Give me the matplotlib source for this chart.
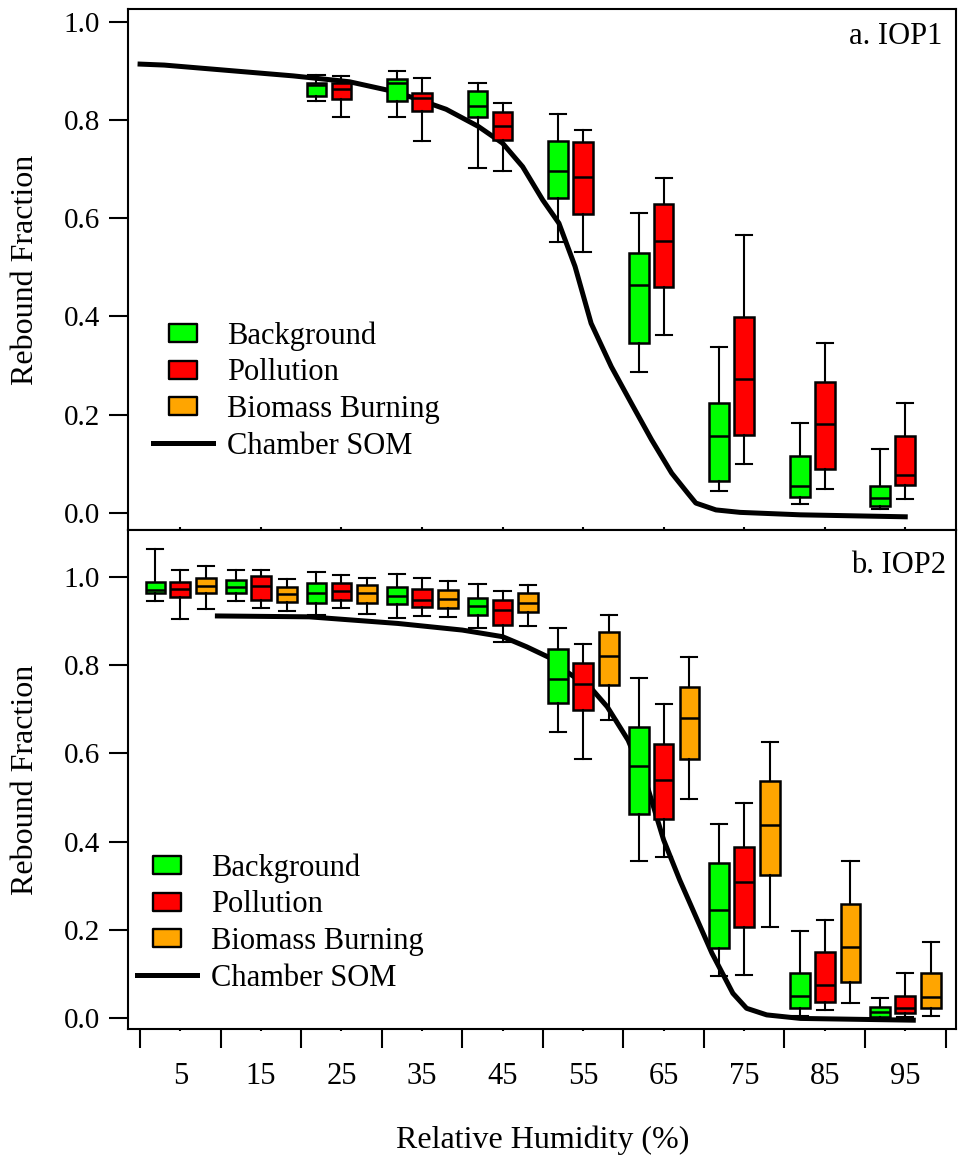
import matplotlib
matplotlib.use("Agg")
import matplotlib.pyplot as plt
from matplotlib.lines import Line2D
from matplotlib.path import Path

plt.rcParams['font.family'] = ['Liberation Serif', 'DejaVu Serif']

# RH bins and labels
rh_bins = [5, 15, 25, 35, 45, 55, 65, 75, 85, 95]
tick_labels = ['5', '15', '25', '35', '45', '55', '65', '75', '85', '95']

# box stats per bin: [whislo, q1, med, q3, whishi]
# IOP1
iop1_bins = [25, 35, 45, 55, 65, 75, 85, 95]
iop1_bg = [[0.838, 0.849, 0.872, 0.876, 0.892],
           [0.807, 0.838, 0.875, 0.884, 0.899],
           [0.702, 0.807, 0.829, 0.859, 0.876],
           [0.551, 0.641, 0.697, 0.757, 0.813],
           [0.287, 0.346, 0.464, 0.529, 0.610],
           [0.045, 0.064, 0.157, 0.223, 0.337],
           [0.018, 0.033, 0.054, 0.116, 0.183],
           [0.008, 0.015, 0.030, 0.054, 0.130]]
iop1_pol = [[0.807, 0.843, 0.863, 0.875, 0.890],
            [0.758, 0.819, 0.845, 0.855, 0.885],
            [0.697, 0.760, 0.787, 0.816, 0.834],
            [0.532, 0.609, 0.685, 0.755, 0.779],
            [0.363, 0.459, 0.553, 0.629, 0.683],
            [0.100, 0.159, 0.273, 0.399, 0.566],
            [0.048, 0.090, 0.181, 0.266, 0.346],
            [0.029, 0.057, 0.077, 0.157, 0.223]]

# IOP2
iop2_bins = rh_bins
iop2_bg = [[0.946, 0.963, 0.970, 0.988, 1.063],
           [0.946, 0.963, 0.978, 0.993, 1.016],
           [0.914, 0.942, 0.964, 0.986, 1.012],
           [0.907, 0.940, 0.958, 0.978, 1.008],
           [0.884, 0.914, 0.934, 0.953, 0.984],
           [0.649, 0.714, 0.770, 0.836, 0.885],
           [0.357, 0.463, 0.571, 0.659, 0.772],
           [0.096, 0.159, 0.245, 0.351, 0.441],
           [0.005, 0.023, 0.050, 0.101, 0.198],
           [0.000, 0.003, 0.014, 0.026, 0.045]]
iop2_pol = [[0.905, 0.955, 0.973, 0.988, 1.016],
            [0.930, 0.949, 0.980, 1.002, 1.016],
            [0.931, 0.949, 0.969, 0.986, 1.006],
            [0.913, 0.933, 0.948, 0.973, 0.998],
            [0.853, 0.891, 0.925, 0.948, 0.969],
            [0.587, 0.698, 0.757, 0.806, 0.848],
            [0.366, 0.451, 0.540, 0.621, 0.713],
            [0.097, 0.206, 0.309, 0.387, 0.488],
            [0.017, 0.036, 0.075, 0.150, 0.222],
            [0.002, 0.011, 0.022, 0.050, 0.101]]
iop2_bb = [[0.927, 0.964, 0.980, 0.997, 1.025],
           [0.924, 0.943, 0.961, 0.978, 0.996],
           [0.916, 0.942, 0.963, 0.982, 0.999],
           [0.909, 0.931, 0.950, 0.971, 0.991],
           [0.890, 0.921, 0.942, 0.963, 0.982],
           [0.676, 0.755, 0.821, 0.875, 0.914],
           [0.497, 0.587, 0.681, 0.751, 0.819],
           [0.206, 0.324, 0.438, 0.538, 0.626],
           [0.033, 0.082, 0.160, 0.258, 0.357],
           [0.005, 0.022, 0.048, 0.101, 0.173]]

# chamber SOM curves
som1_rh = [0, 3, 11, 19, 26, 31, 34, 38, 42, 45, 47.5, 50, 52, 54, 56, 58.5,
           61, 63.5, 66, 68, 69, 71.5, 74.5, 82, 95]
som1_rf = [0.914, 0.912, 0.901, 0.890, 0.878, 0.860, 0.845, 0.822, 0.787,
           0.753, 0.705, 0.637, 0.590, 0.502, 0.386, 0.298, 0.223, 0.149,
           0.081, 0.040, 0.020, 0.006, 0.001, -0.004, -0.008]
som2_rh = [9.6, 21, 32, 40, 45, 48, 51, 53, 56, 58, 60.6, 63, 65, 67, 69,
           71, 73.6, 75.3, 77.8, 82, 96]
som2_rf = [0.912, 0.910, 0.895, 0.880, 0.865, 0.842, 0.816, 0.785, 0.748,
           0.706, 0.630, 0.524, 0.404, 0.313, 0.230, 0.147, 0.056, 0.022,
           0.007, -0.001, -0.005]

colors = {'bg': '#00ff00', 'pol': '#ff0000', 'bb': '#ffa500'}
offsets = {'bg': -3.1, 'pol': 0.0, 'bb': 3.2}
names = {'bg': 'Background', 'pol': 'Pollution', 'bb': 'Biomass Burning'}


def draw_boxes(ax, bins, stats, key):
    bx = []
    for s in stats:
        bx.append({'whislo': s[0], 'q1': s[1], 'med': s[2], 'q3': s[3],
                   'whishi': s[4], 'fliers': []})
    pos = [b + offsets[key] for b in bins]
    ax.bxp(bx, positions=pos, widths=2.45, capwidths=2.0, patch_artist=True,
           showfliers=False, manage_ticks=False, zorder=3,
           boxprops=dict(facecolor=colors[key], edgecolor='k', linewidth=1.8),
           whiskerprops=dict(color='k', linewidth=1.5),
           capprops=dict(color='k', linewidth=1.5),
           medianprops=dict(color='k', linewidth=1.8))


rect = Path([(-1, -0.64), (1, -0.64), (1, 0.64), (-1, 0.64), (-1, -0.64)],
            [Path.MOVETO, Path.LINETO, Path.LINETO, Path.LINETO, Path.CLOSEPOLY])


def add_legend(ax, keys, x, y):
    hs = []
    for k in keys:
        hs.append(Line2D([], [], ls='none', marker=rect, ms=20,
                         mfc=colors[k], mec='k', mew=1.7, label=names[k]))
    hs.append(Line2D([], [], color='k', lw=3.6, label='Chamber SOM'))
    ax.legend(handles=hs, loc='center left', bbox_to_anchor=(x, y),
              frameon=False, fontsize=22, handlelength=1.96,
              handletextpad=0.46, labelspacing=0.25, borderpad=0,
              borderaxespad=0, numpoints=1)


fig = plt.figure(figsize=(9.58, 11.67), dpi=100)
ax1 = fig.add_axes([0.1336, 0.5458, 0.8643, 0.4464])
ax2 = fig.add_axes([0.1336, 0.11825, 0.8643, 0.4276])

# top panel
ax1.plot(som1_rh, som1_rf, color='k', lw=3.6, zorder=2)
draw_boxes(ax1, iop1_bins, iop1_bg, 'bg')
draw_boxes(ax1, iop1_bins, iop1_pol, 'pol')
ax1.set_ylim(-0.035, 1.026)
ax1.text(0.983, 0.947, 'a. IOP1', transform=ax1.transAxes, ha='right',
         va='center', fontsize=22)
add_legend(ax1, ['bg', 'pol', 'bb'], 0.030, 0.2668)

# bottom panel
ax2.plot(som2_rh, som2_rf, color='k', lw=3.6, zorder=2)
draw_boxes(ax2, iop2_bins, iop2_bg, 'bg')
draw_boxes(ax2, iop2_bins, iop2_pol, 'pol')
draw_boxes(ax2, iop2_bins, iop2_bb, 'bb')
ax2.set_ylim(-0.025, 1.107)
ax2.text(0.988, 0.928, 'b. IOP2', transform=ax2.transAxes, ha='right',
         va='center', fontsize=22)
add_legend(ax2, ['bg', 'pol', 'bb'], 0.011, 0.2124)

for ax in [ax1, ax2]:
    ax.set_xlim(-1.5, 101.3)
    ax.set_yticks([0.0, 0.2, 0.4, 0.6, 0.8, 1.0])
    ax.set_yticklabels(['0.0', '0.2', '0.4', '0.6', '0.8', '1.0'])
    ax.tick_params(axis='y', direction='out', length=14, width=1.5,
                   labelsize=21, pad=6)
    for sp in ax.spines.values():
        sp.set_linewidth(1.5)
    ax.set_ylabel('Rebound Fraction', fontsize=23)
    ax.yaxis.set_label_coords(-0.106, 0.5)

ax1.set_xticks([])
ax1.set_xticks(rh_bins, minor=True)
ax1.tick_params(axis='x', which='minor', direction='in', length=2,
                width=1.5, labelbottom=False)

ax2.set_xticks(range(0, 101, 10))
ax2.set_xticklabels([])
ax2.set_xticks(rh_bins, tick_labels, minor=True)
ax2.tick_params(axis='x', which='major', direction='out', length=14,
                width=1.5)
ax2.tick_params(axis='x', which='minor', direction='out', length=1.5,
                width=1.5, labelsize=22, pad=22)

fig.text(0.566, 0.0231, 'Relative Humidity (%)', ha='center', va='center',
         fontsize=23)

fig.savefig('out.png', dpi=100)
